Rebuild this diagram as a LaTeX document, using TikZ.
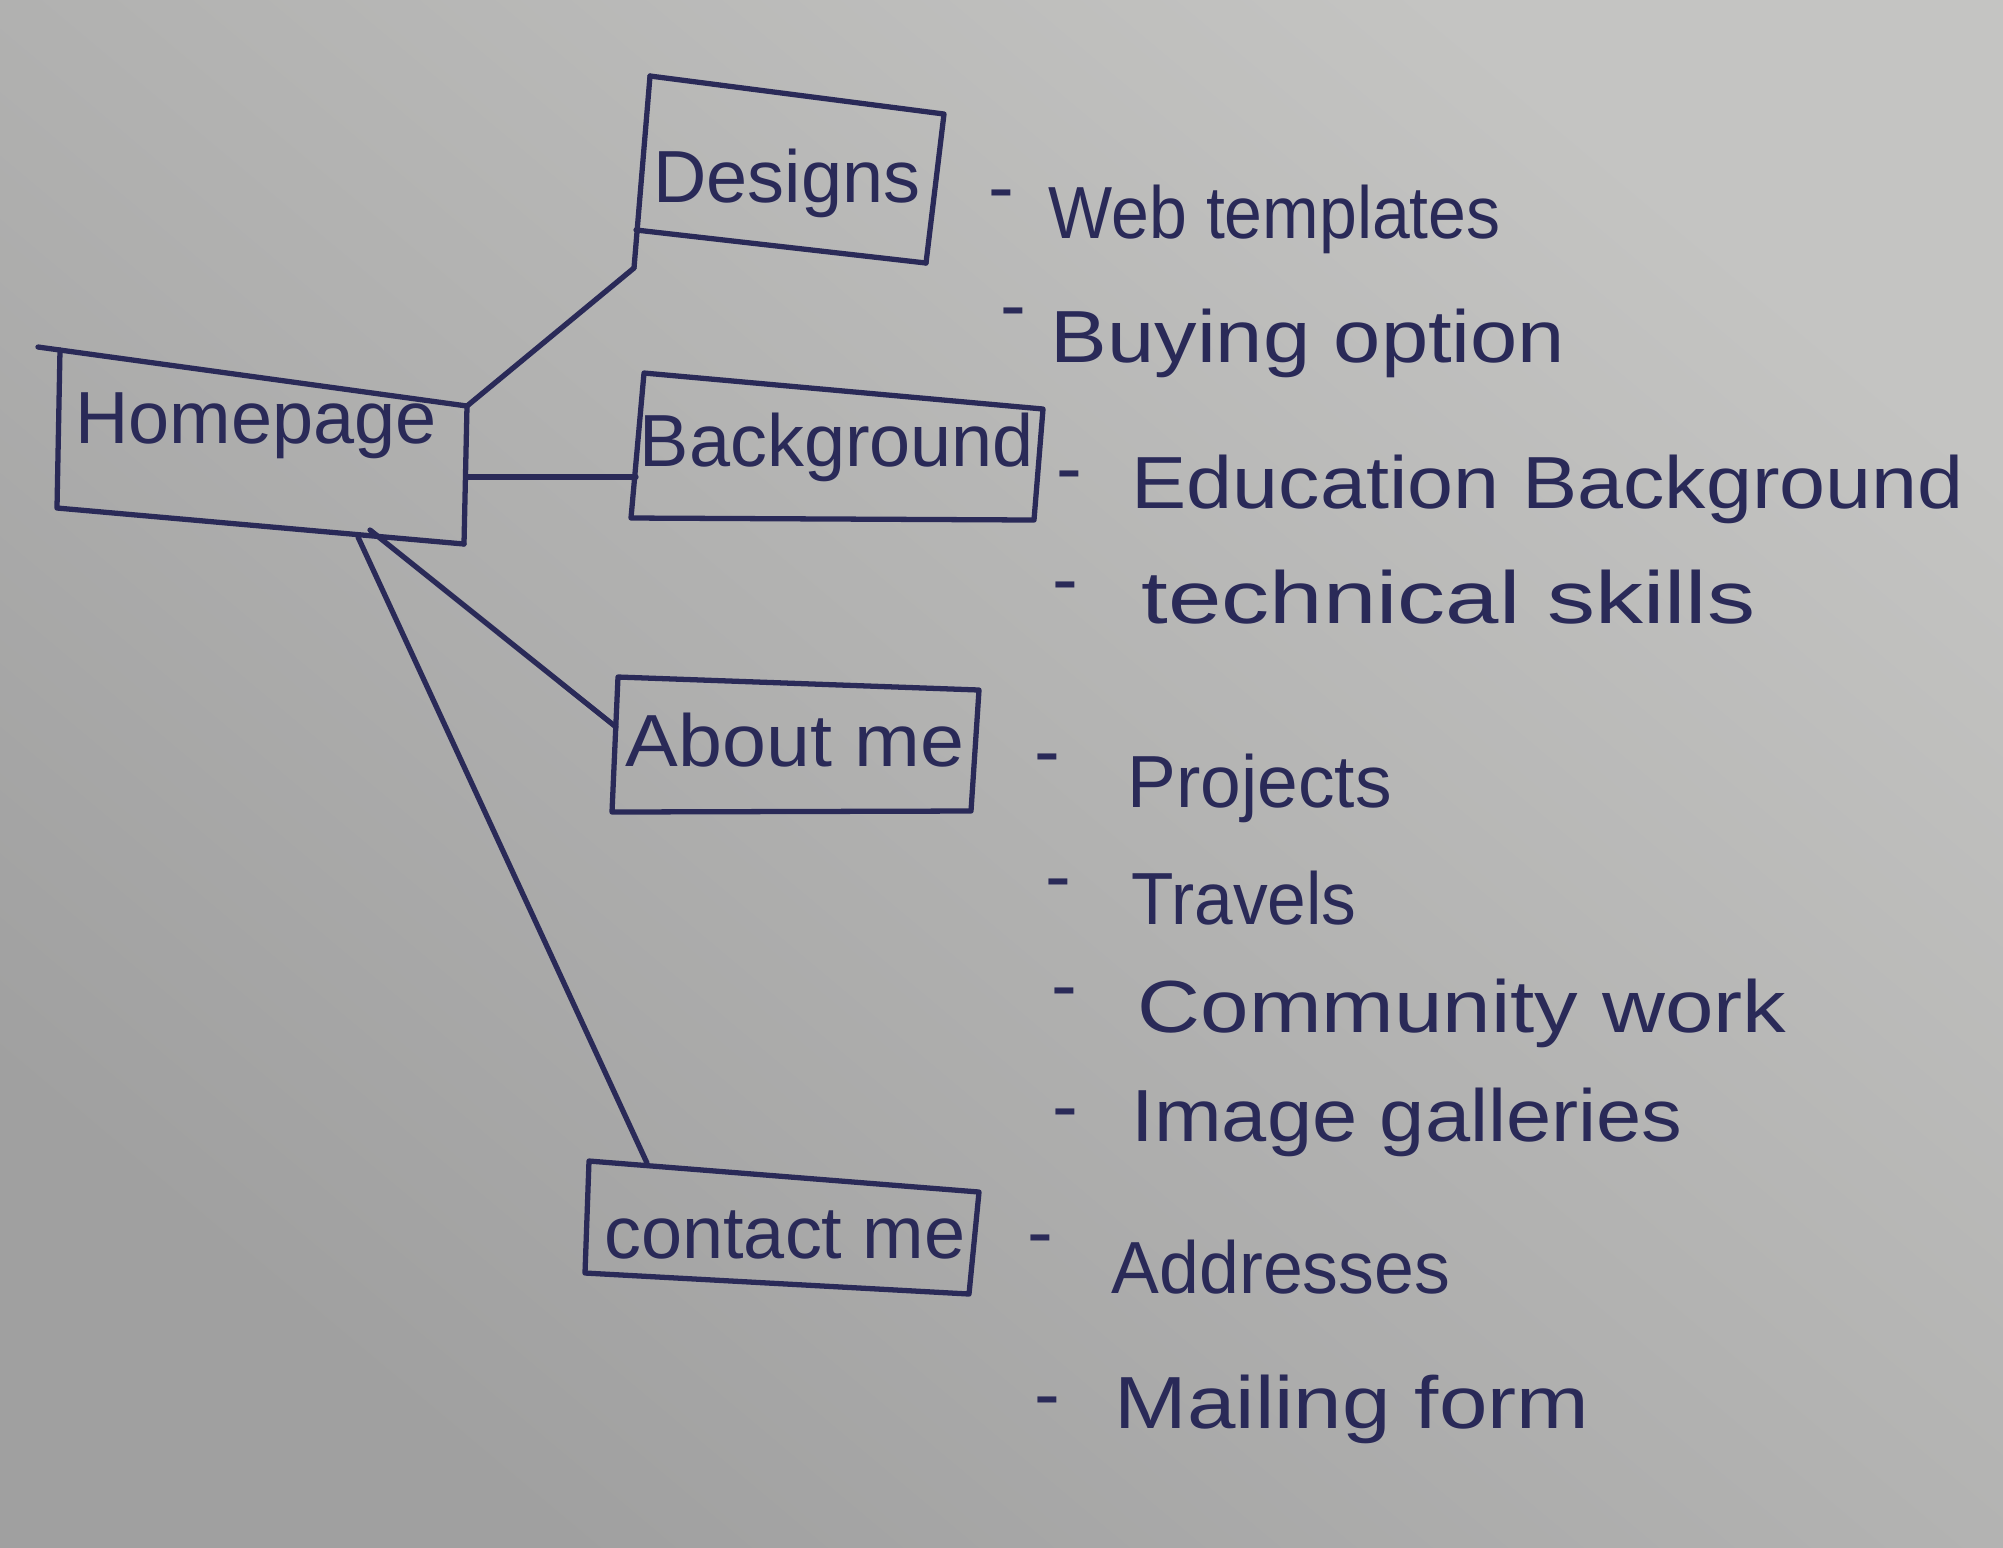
\documentclass[tikz,border=0pt]{standalone}
\usepackage{fontspec}
\setmainfont{Liberation Sans}
\definecolor{inkc}{RGB}{42,42,88}
\definecolor{paperlight}{RGB}{196,196,194}
\definecolor{paperdark}{RGB}{160,160,160}
\newcommand{\wide}[2]{\scalebox{#1}[1]{#2}}
\begin{document}
\begin{tikzpicture}[x=0.01cm,y=-0.01cm,
  ink/.style={draw=inkc,line width=1.5pt,line cap=round,line join=round},
  boxlabel/.style={text=inkc,inner sep=0pt,anchor=base,font=\fontsize{21}{24}\selectfont},
  item/.style={text=inkc,inner sep=0pt,anchor=base west,font=\fontsize{21}{24}\selectfont},
  dashmark/.style={text=inkc,inner sep=0pt,anchor=base,font=\fontsize{22}{24}\selectfont}]
\shade[top color=paperlight,bottom color=paperdark,shading angle=-40] (0,0) rectangle (2003,1547);
\useasboundingbox (0,0) rectangle (2003,1547);

% ---------- box corner coordinates ----------
% Designs
\coordinate (d-tl) at (650,76);  \coordinate (d-tr) at (944,114);
\coordinate (d-br) at (926,263); \coordinate (d-bl) at (636,230);
\coordinate (d-foot) at (634,268);
% Homepage
\coordinate (h-start) at (38,347); \coordinate (h-tl) at (60,350);
\coordinate (h-tr) at (467,406);   \coordinate (h-br) at (464,544);
\coordinate (h-bl) at (57,508);    \coordinate (h-mid) at (466,477);
\coordinate (h-b1) at (370,530);   \coordinate (h-b2) at (358,537);
% Background
\coordinate (b-tl) at (644,373);  \coordinate (b-tr) at (1043,409);
\coordinate (b-br) at (1034,520); \coordinate (b-bl) at (631,518);
\coordinate (b-mid) at (636,477);
% About me
\coordinate (a-tl) at (618,677);  \coordinate (a-tr) at (979,690);
\coordinate (a-br) at (971,811);  \coordinate (a-bl) at (612,812);
\coordinate (a-in) at (616,727);
% contact me
\coordinate (c-tl) at (589,1161); \coordinate (c-tr) at (979,1192);
\coordinate (c-br) at (969,1294); \coordinate (c-bl) at (585,1273);
\coordinate (c-in) at (647,1163);

% ---------- boxes ----------
\draw[ink] (d-tl) -- (d-tr) -- (d-br);
\draw[ink] (d-bl) -- (d-br);
\draw[ink] (d-tl) -- (d-foot);
\draw[ink] (h-start) -- (h-tr) -- (h-br);
\draw[ink] (h-tl) -- (h-bl) -- (h-br);
\draw[ink] (b-tl) -- (b-tr) -- (b-br) -- (b-bl) -- cycle;
\draw[ink] (a-tl) -- (a-tr) -- (a-br) -- (a-bl) -- cycle;
\draw[ink] (c-tl) -- (c-tr) -- (c-br) -- (c-bl) -- cycle;

% ---------- box labels ----------
\node[boxlabel] (designs) at (787,202) {Designs};
\node[boxlabel] (home) at (256,443) {Homepage};
\node[boxlabel] (background) at (837,466) {Background};
\node[boxlabel] (about) at (795,766) {\wide{1.07}{About me}};
\node[boxlabel] (contact) at (785,1258) {contact me};

% ---------- connectors ----------
\draw[ink] (h-tr) -- (d-foot);
\draw[ink] (h-mid) -- (b-mid);
\draw[ink] (h-b1) -- (a-in);
\draw[ink] (h-b2) -- (c-in);

% ---------- lists ----------
\node[dashmark] (dash1) at (1001,213) {-};
\node[item] (web) at (1048,238) {\wide{0.92}{Web templates}};
\node[dashmark] (dash2) at (1013,331) {-};
\node[item] (buy) at (1050,362) {\wide{1.15}{Buying option}};

\node[dashmark] (dash3) at (1069,494) {-};
\node[item] (edu) at (1131,508) {\wide{1.12}{Education Background}};
\node[dashmark] (dash4) at (1065,605) {-};
\node[item] (tech) at (1141,623) {\wide{1.3}{technical skills}};

\node[dashmark] (dash5) at (1047,777) {-};
\node[item] (proj) at (1127,807) {\wide{0.99}{Projects}};
\node[dashmark] (dash6) at (1058,902) {-};
\node[item] (trav) at (1131,924) {\wide{0.94}{Travels}};
\node[dashmark] (dash7) at (1064,1011) {-};
\node[item] (comm) at (1137,1032) {\wide{1.18}{Community work}};
\node[dashmark] (dash8) at (1065,1132) {-};
\node[item] (img) at (1131,1141) {\wide{1.1}{Image galleries}};

\node[dashmark] (dash9) at (1040,1258) {-};
\node[item] (addr) at (1111,1293) {\wide{0.97}{Addresses}};
\node[dashmark] (dash10) at (1047,1420) {-};
\node[item] (mail) at (1114,1428) {\wide{1.18}{Mailing form}};
\end{tikzpicture}
\end{document}
